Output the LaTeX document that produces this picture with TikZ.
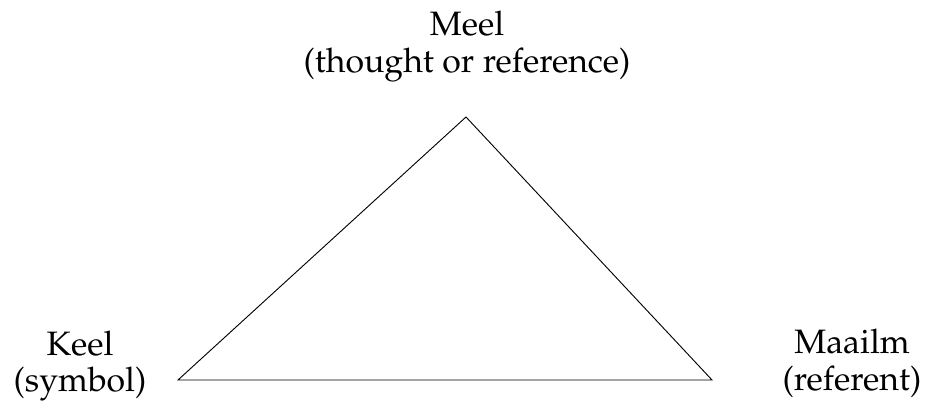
\documentclass[tikz,border=0pt]{standalone}
\usepackage[T1]{fontenc}
\usepackage{mathpazo}
\begin{document}
\begin{tikzpicture}[x=0.325pt, y=-0.325pt, every node/.style={align=center, inner sep=0pt, font=\fontsize{11}{12}\selectfont}]
        \useasboundingbox (0,0) rectangle (936,403);
        \coordinate (1) at (466,117);
        \coordinate (2) at (178,380);
        \coordinate (3) at (712,380);

        \node (t1) at (467,47) {Meel\\(thought or reference)};
        \node (t2) at (80,366) {Keel\\(symbol)};
        \node (t3) at (852,363) {Maailm\\(referent)};

        \draw[line width=0.3pt] (1) -- (2) -- (3) -- cycle;
    \end{tikzpicture}
\end{document}
